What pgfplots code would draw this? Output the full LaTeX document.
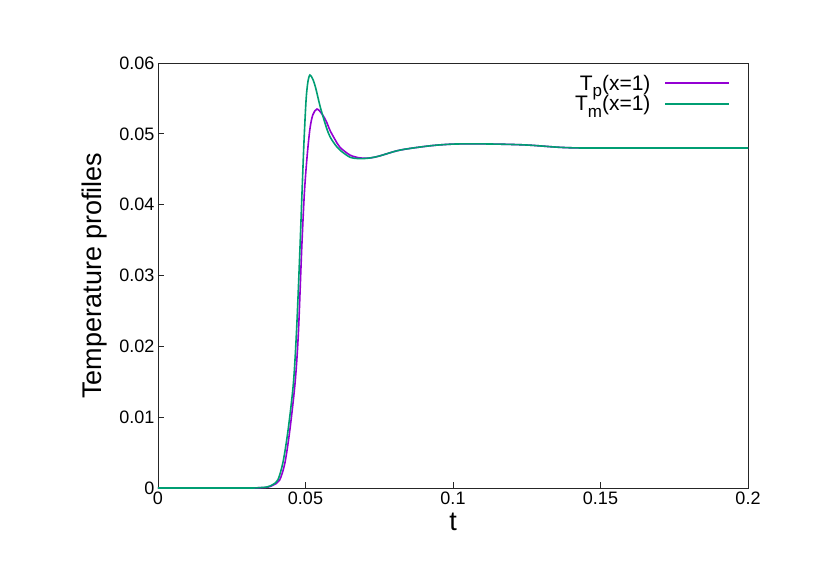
\documentclass[border=0pt]{standalone}
\usepackage{pgfplots}
\pgfplotsset{compat=1.18}
\usepackage{fontspec}
\setmainfont{Liberation Sans}
\definecolor{colP}{HTML}{9400D3}
\definecolor{colM}{HTML}{009E73}
\newcommand{\sub}[1]{\raisebox{-0.32em}{\fontsize{17bp}{17bp}\selectfont #1}}
\begin{document}
\begin{tikzpicture}
\begin{axis}[
  at={(0,0)}, anchor=south west,
  scale only axis, width=590bp, height=425bp,
  xmin=0, xmax=0.2, ymin=0, ymax=0.06,
  axis line style={black!85, line width=0.8bp},
  tick style={black!85, line width=0.8bp},
  tick align=inside, tick pos=left,
  major tick length=6bp,
  scaled ticks=false,
  xtick={0,0.05,0.1,0.15,0.2},
  xticklabels={0,0.05,0.1,0.15,0.2},
  ytick={0,0.01,0.02,0.03,0.04,0.05,0.06},
  yticklabels={0,0.01,0.02,0.03,0.04,0.05,0.06},
  ticklabel style={font=\fontsize{18bp}{21bp}\selectfont},
  xlabel={t},
  ylabel={Temperature profiles},
  label style={font=\fontsize{27bp}{30bp}\selectfont},
  xlabel style={at={(axis description cs:0.5,-0.08)}, anchor=center},
  ylabel style={at={(axis description cs:-0.1068,0.5)}, anchor=center},
  legend style={draw=none, fill=none, font=\fontsize{21bp}{24bp}\selectfont,
    at={(rel axis cs:0.975,0.982)}, anchor=north east, row sep=0bp,
    column sep=12bp, legend cell align=right},
  legend plot pos=right,
  legend image code/.code={\draw[#1, line width=1.6bp] (0bp,0bp) -- (64bp,0bp);},
  every axis plot/.append style={line width=1.6bp},
]
\addplot[colP, smooth] coordinates {
(0,0) (0.030,0) (0.034,0.00003) (0.037,0.0001) (0.039,0.0004)
(0.0412,0.0011) (0.0430,0.0035) (0.0447,0.0082) (0.0465,0.0150)
(0.0476,0.0220) (0.0487,0.0336) (0.0496,0.0415) (0.0505,0.0466)
(0.0515,0.0507) (0.0525,0.0527) (0.0539,0.0535) (0.0556,0.0528)
(0.0570,0.0518) (0.0583,0.0505) (0.0600,0.0492) (0.0617,0.0481)
(0.0651,0.0470) (0.0685,0.0466) (0.072,0.0466) (0.0753,0.0469)
(0.082,0.0477) (0.092,0.0483) (0.100,0.04855) (0.109,0.04858)
(0.118,0.04852) (0.126,0.0484) (0.136,0.0481) (0.144,0.0480)
(0.16,0.0480) (0.2,0.0480)
};
\addlegendentry{T\sub{p}(x=1)}
\addplot[colM, smooth] coordinates {
(0,0) (0.030,0) (0.034,0.00004) (0.037,0.00015) (0.039,0.0005)
(0.0407,0.0012) (0.0424,0.0037) (0.0441,0.0082) (0.0459,0.0148)
(0.0470,0.0225) (0.0481,0.0336) (0.0488,0.0415) (0.0495,0.0490)
(0.0502,0.0548) (0.0508,0.0573) (0.0515,0.0583) (0.0525,0.0577)
(0.0535,0.0564) (0.0550,0.0538) (0.0570,0.0510) (0.0583,0.0496)
(0.0600,0.0485) (0.0617,0.0477) (0.0651,0.0467) (0.0685,0.0465)
(0.072,0.0466) (0.0753,0.0469) (0.082,0.0477) (0.092,0.0483)
(0.100,0.04855) (0.109,0.04858) (0.118,0.04852) (0.126,0.0484)
(0.136,0.0481) (0.144,0.0480) (0.16,0.0480) (0.2,0.0480)
};
\addlegendentry{T\sub{m}(x=1)}
\end{axis}
\path (-158bp,-99bp) rectangle (672bp,488bp);
\end{tikzpicture}
\end{document}
